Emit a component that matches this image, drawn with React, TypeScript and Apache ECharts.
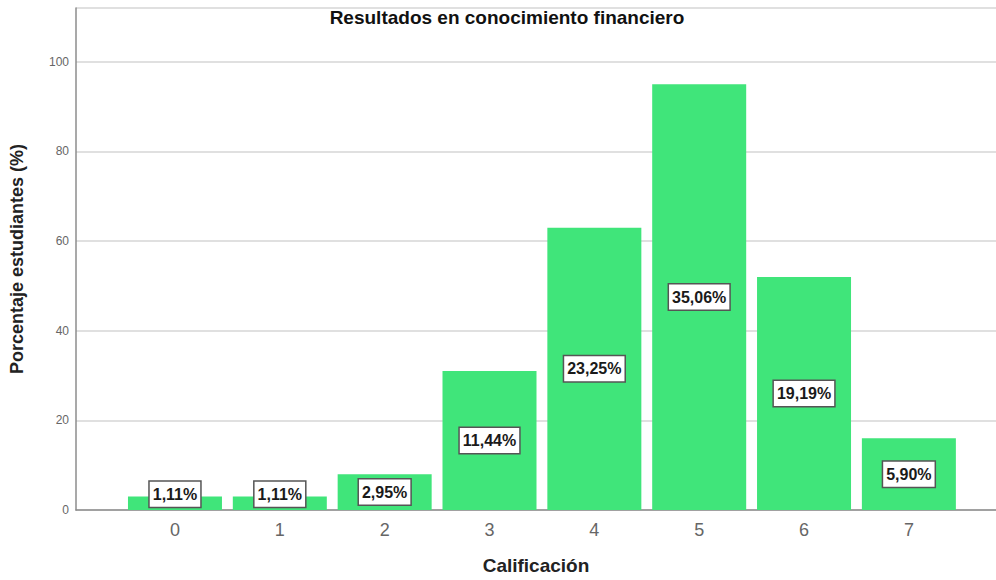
import React, { useEffect, useRef } from "react";
import * as echarts from "echarts";

const categories = [0, 1, 2, 3, 4, 5, 6, 7];
const counts = [3, 3, 8, 31, 63, 95, 52, 16];
const percentLabels = ["1,11%", "1,11%", "2,95%", "11,44%", "23,25%", "35,06%", "19,19%", "5,90%"];
const yTicks = [0, 20, 40, 60, 80, 100];

const FONT = "'Liberation Sans', Arial, sans-serif";

export default function App() {
  const ref = useRef<HTMLDivElement>(null);
  useEffect(() => {
    document.body.style.margin = "0";
    const chart = echarts.init(ref.current!, undefined, { renderer: "svg" });
    chart.setOption({
      animation: false,
      backgroundColor: "#ffffff",
      title: {
        text: "Resultados en conocimiento financiero",
        left: 502,
        textAlign: "center",
        top: 3,
        textStyle: { fontFamily: FONT, fontSize: 19, fontWeight: "bold", color: "#111" },
      },
      grid: { left: 75.5, right: 0, top: 8, bottom: 67.5, containLabel: false },
      xAxis: {
        type: "value",
        min: -0.944,
        max: 7.831,
        name: "Calificación",
        nameLocation: "middle",
        nameGap: 46,
        nameTextStyle: { fontFamily: FONT, fontSize: 19, fontWeight: "bold", color: "#222" },
        axisLine: { show: true, onZero: false, lineStyle: { color: "#8c8c8c", width: 1.5 } },
        axisTick: { show: false },
        splitLine: { show: false },
        axisLabel: {
          customValues: categories,
          margin: 11,
          fontFamily: FONT,
          fontSize: 18,
          color: "#666",
          formatter: (v: number) => String(v),
        },
      },
      yAxis: {
        type: "value",
        min: 0,
        max: 112,
        name: "Porcentaje estudiantes (%)",
        nameLocation: "middle",
        nameRotate: 90,
        nameGap: 50,
        nameTextStyle: { fontFamily: FONT, fontSize: 18, fontWeight: "bold", color: "#222" },
        axisLine: { show: true, onZero: false, lineStyle: { color: "#8c8c8c", width: 1.5 } },
        axisTick: { show: false },
        splitLine: { show: true, lineStyle: { color: "#d6d6d6", width: 1.5 } },
        axisLabel: {
          customValues: yTicks,
          margin: 7,
          fontFamily: FONT,
          fontSize: 12,
          color: "#666",
        },
      },
      series: [
        {
          type: "bar",
          barWidth: 94,
          itemStyle: { color: "#40E57A" },
          data: categories.map((c, i) => ({
            value: [c, counts[i]],
            label: counts[i] < 5 ? { offset: [0, -9] } : undefined,
          })),
          label: {
            show: true,
            position: "inside",
            formatter: (p: any) => percentLabels[p.dataIndex],
            fontFamily: FONT,
            fontSize: 16,
            fontWeight: "bold",
            color: "#1a1a1a",
            backgroundColor: "#ffffff",
            borderColor: "#555",
            borderWidth: 1.5,
            padding: [5, 3, 4, 3],
          },
        },
      ],
    });
    return () => chart.dispose();
  }, []);
  return <div ref={ref} style={{ width: 996, height: 580 }} />;
}
